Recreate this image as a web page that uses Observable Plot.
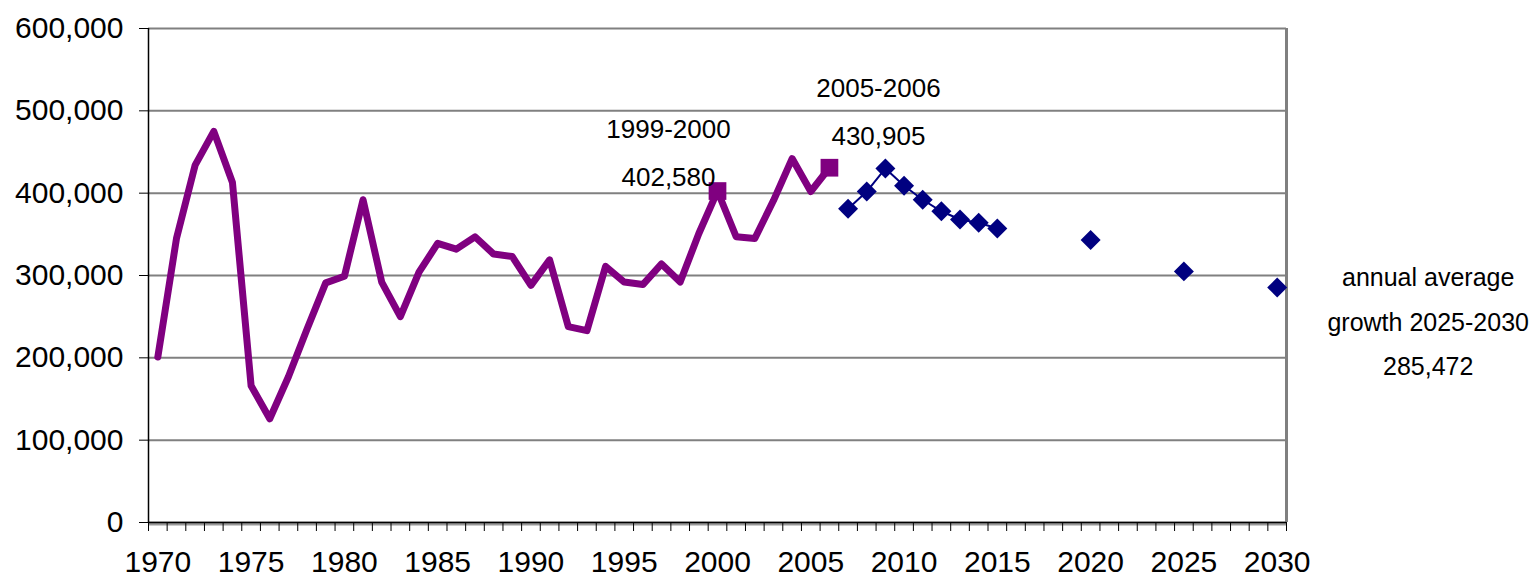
<!DOCTYPE html>
<html>
<head>
<meta charset="utf-8">
<script src="https://cdn.jsdelivr.net/npm/d3@7"></script>
<script src="https://cdn.jsdelivr.net/npm/@observablehq/plot@0.6"></script>
<style>
  html, body { margin: 0; padding: 0; background: #fff; }
  #chart svg { display: block; }
</style>
</head>
<body>
<div id="chart"></div>
<script>
// Historical annual values (purple line)
const histYears = [1970,1971,1972,1973,1974,1975,1976,1977,1978,1979,
                   1980,1981,1982,1983,1984,1985,1986,1987,1988,1989,
                   1990,1991,1992,1993,1994,1995,1996,1997,1998,1999,
                   2000,2001,2002,2003,2004,2005,2006];
const histValues = [201000,345000,434000,475000,413000,166000,126000,177000,235000,291000,
                    299000,392000,292000,250000,304000,339000,332000,347000,326000,323000,
                    288000,319000,238000,233000,311000,292000,289000,314000,292000,351000,
                    402580,347000,345000,391000,442000,402000,430905];

// Highlighted historical points (square markers)
const markYears = [2000, 2006];
const markValues = [402580, 430905];
const markLabels = ["1999-2000\n402,580", "2005-2006\n430,905"];

// Projected values (navy diamonds)
const projYears = [2007,2008,2009,2010,2011,2012,2013,2014,2015,2020,2025,2030];
const projValues = [381000,402000,430000,409000,392000,378000,368000,364000,357000,343000,305000,285472];

// Right-hand note
const noteYear = 2030;
const noteValue = 285472;
const noteText = "annual average\ngrowth 2025-2030\n285,472";

// Axis ticks
const yTicks = [0,100000,200000,300000,400000,500000,600000];
const xLabelTicks = [1970,1975,1980,1985,1990,1995,2000,2005,2010,2015,2020,2025,2030];

const hist = histYears.map((y, i) => ({year: y, value: histValues[i]}));
const marks = markYears.map((y, i) => ({year: y, value: markValues[i], label: markLabels[i]}));
const proj = projYears.map((y, i) => ({year: y, value: projValues[i]}));
const projLine = proj.filter(d => d.year <= 2015);

const firstYear = d3.min(histYears), lastYear = d3.max(projYears);
const boundaries = d3.range(firstYear - 0.5, lastYear + 1, 1);

const font = "'Liberation Sans', Arial, sans-serif";

const chart = Plot.plot({
  width: 1530,
  height: 581,
  marginLeft: 148,
  marginRight: 244,
  marginTop: 28,
  marginBottom: 59,
  style: {fontFamily: font, fontSize: "30px", color: "#000", background: "#fff", overflow: "visible"},
  x: {domain: [firstYear - 0.5, lastYear + 0.5]},
  y: {domain: [0, 600000]},
  marks: [
    Plot.gridY(yTicks.slice(1), {stroke: "#808080", strokeOpacity: 1, strokeWidth: 2}),
    Plot.ruleX([lastYear + 0.5], {stroke: "#808080", strokeWidth: 3}),
    Plot.ruleY([0], {stroke: "#999", strokeWidth: 4, dy: 1}),
    Plot.ruleY([0], {stroke: "#000", strokeWidth: 1.5}),
    Plot.ruleX([firstYear - 0.5], {stroke: "#000", strokeWidth: 1.5}),
    Plot.axisY({ticks: yTicks, tickFormat: d3.format(","), tickSize: 9, tickPadding: 16, label: null, fontSize: 30, stroke: "#000"}),
    Plot.axisX({ticks: boundaries, tickFormat: () => "", tickSize: 9, label: null, stroke: "#000"}),
    Plot.axisX({ticks: xLabelTicks, tickFormat: d => String(d), tickSize: 0, tickPadding: 28, label: null, fontSize: 30}),
    Plot.line(hist, {x: "year", y: "value", stroke: "#800080", strokeWidth: 7, strokeLinejoin: "round", strokeLinecap: "round"}),
    Plot.dot(marks, {x: "year", y: "value", symbol: "square", r: 10, fill: "#800080", stroke: "none"}),
    Plot.line(projLine, {x: "year", y: "value", stroke: "#000080", strokeWidth: 2}),
    Plot.dot(proj, {x: "year", y: "value", symbol: "diamond2", r: 9, fill: "#000080", stroke: "none"}),
    Plot.text(marks.slice(0, 1), {x: "year", y: "value", text: "label", dx: -49, dy: -44, lineAnchor: "middle", lineHeight: 1.85, fontSize: 26, fontFamily: font, fill: "#000"}),
    Plot.text(marks.slice(1), {x: "year", y: "value", text: "label", dx: 49, dy: -62, lineAnchor: "middle", lineHeight: 1.85, fontSize: 26, fontFamily: font, fill: "#000"}),
    Plot.text([{year: noteYear, value: noteValue, label: noteText}], {x: "year", y: "value", text: "label", dx: 151, dy: 29, lineAnchor: "middle", lineHeight: 1.77, fontSize: 25, fontFamily: font, fill: "#000", clip: false})
  ]
});
document.getElementById("chart").appendChild(chart);
</script>
</body>
</html>
